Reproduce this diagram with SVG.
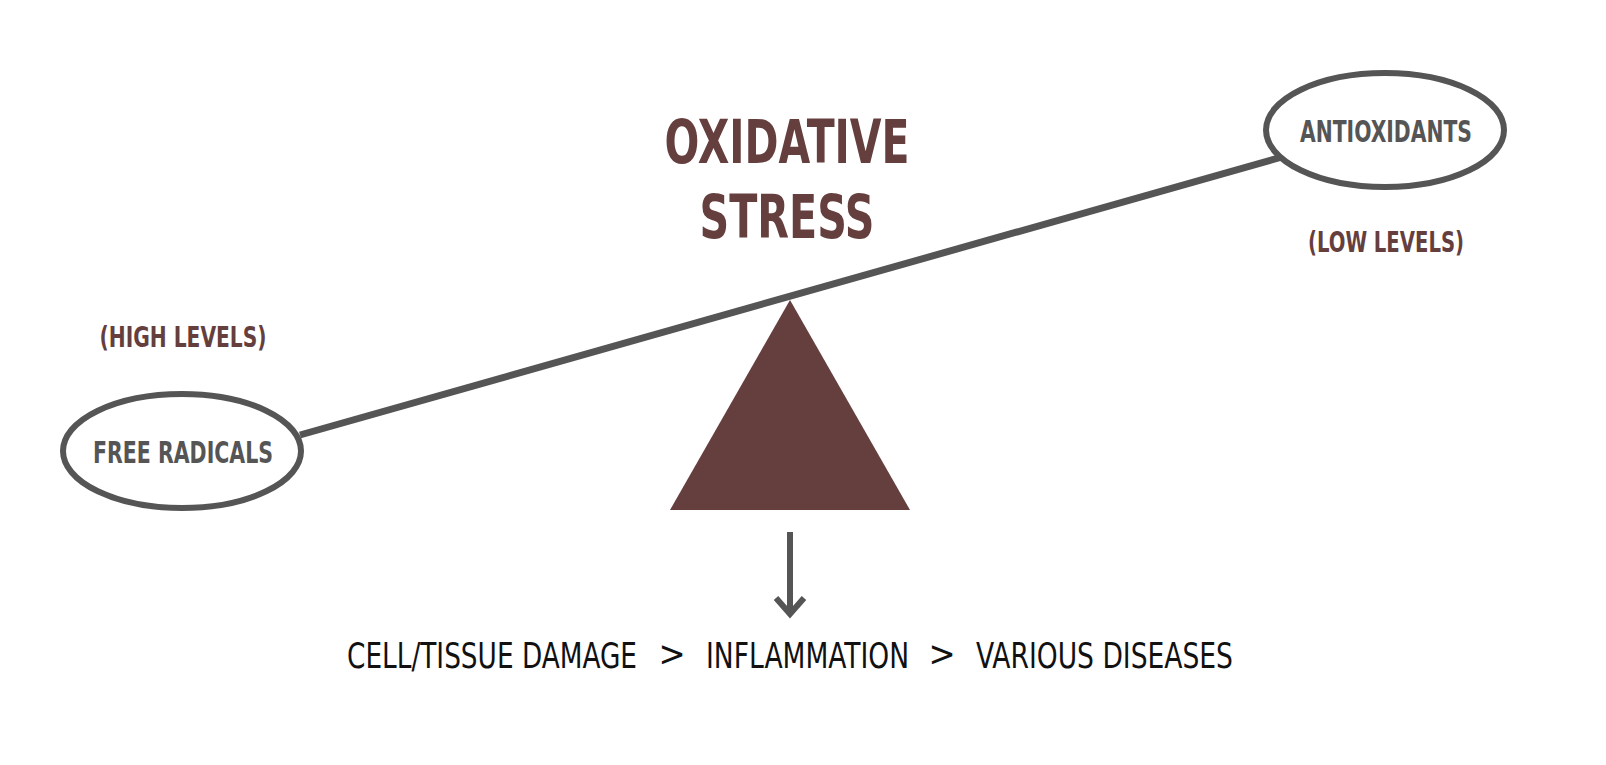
<svg xmlns="http://www.w3.org/2000/svg" width="1606" height="765" viewBox="0 0 1606 765">
<style>
.b{font-family:"DejaVu Sans Condensed","DejaVu Sans",sans-serif;font-weight:bold}
.r{fill:#653e3e}
.g{fill:#555}
.k{font-family:"DejaVu Sans Condensed","DejaVu Sans",sans-serif;fill:#111;font-size:36px}
.o{fill:#fff;stroke:#555;stroke-width:6}
</style>
<rect width="1606" height="765" fill="#fff"/>
<g id="title"><text class="b r" x="787" y="163" font-size="60" text-anchor="middle" textLength="245" lengthAdjust="spacingAndGlyphs">OXIDATIVE</text>
<text class="b r" x="787" y="238" font-size="60" text-anchor="middle" textLength="175" lengthAdjust="spacingAndGlyphs">STRESS</text></g>
<g id="connectors">
<line x1="300" y1="435" x2="1282" y2="157" stroke="#555" stroke-width="7"/>
<line x1="790" y1="532" x2="790" y2="612" stroke="#555" stroke-width="6"/>
<path d="M776,598 L790,614 L804,598" fill="none" stroke="#555" stroke-width="6"/>
</g>
<g id="fulcrum"><polygon points="790,300 670,510 910,510" fill="#653e3e"/></g>
<g id="free-radicals"><ellipse class="o" cx="182" cy="451" rx="119" ry="57"/>
<text class="b g" x="183" y="463" font-size="30" text-anchor="middle" textLength="180" lengthAdjust="spacingAndGlyphs">FREE RADICALS</text></g>
<g id="antioxidants"><ellipse class="o" cx="1385" cy="130" rx="119" ry="57"/>
<text class="b g" x="1386" y="142" font-size="30" text-anchor="middle" textLength="172" lengthAdjust="spacingAndGlyphs">ANTIOXIDANTS</text></g>
<text class="b r" x="183" y="347" font-size="28" text-anchor="middle" textLength="167" lengthAdjust="spacingAndGlyphs">(HIGH LEVELS)</text>
<text class="b r" x="1386" y="252" font-size="28" text-anchor="middle" textLength="156" lengthAdjust="spacingAndGlyphs">(LOW LEVELS)</text>
<g id="outcomes">
<text class="k" x="347" y="668" textLength="290" lengthAdjust="spacingAndGlyphs">CELL/TISSUE DAMAGE</text>
<text class="k" x="672" y="666" text-anchor="middle" font-size="24">&gt;</text>
<text class="k" x="706" y="668" textLength="203" lengthAdjust="spacingAndGlyphs">INFLAMMATION</text>
<text class="k" x="942" y="666" text-anchor="middle" font-size="24">&gt;</text>
<text class="k" x="976" y="668" textLength="257" lengthAdjust="spacingAndGlyphs">VARIOUS DISEASES</text>
</g>
</svg>
